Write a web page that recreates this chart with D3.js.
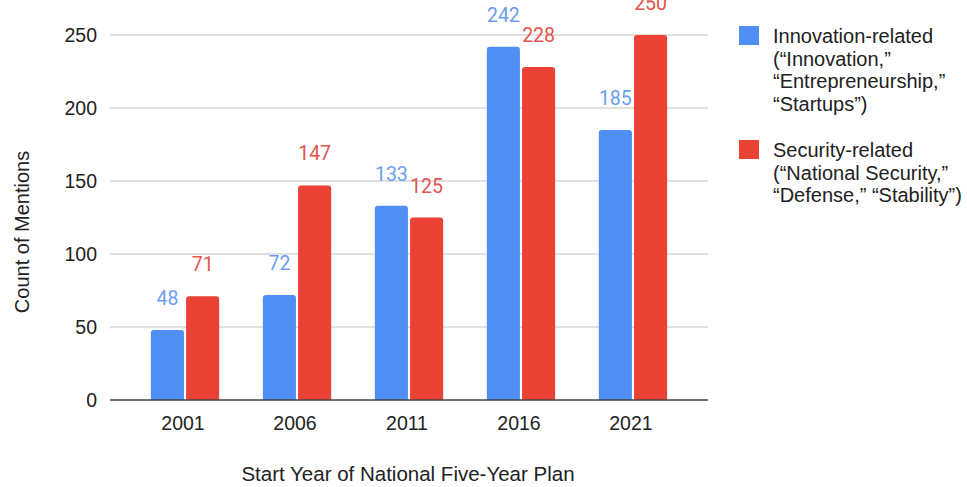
<!DOCTYPE html>
<html>
<head>
<meta charset="utf-8">
<script src="https://cdn.jsdelivr.net/npm/d3@7"></script>
<style>
  body { margin: 0; background: #fff; }
  svg { display: block; font-family: "Liberation Sans", Arial, sans-serif; }
</style>
</head>
<body>
<svg id="chart" width="967" height="487"></svg>
<script>
const years = ["2001", "2006", "2011", "2016", "2021"];
const innovation = [48, 72, 133, 242, 185];
const security = [71, 147, 125, 228, 250];
const yTicks = [0, 50, 100, 150, 200, 250];
const seriesNames = ["innovation", "security"];
const legendLines = [
  ["Innovation-related", "(\u201CInnovation,\u201D", "\u201CEntrepreneurship,\u201D", "\u201CStartups\u201D)"],
  ["Security-related", "(\u201CNational Security,\u201D", "\u201CDefense,\u201D \u201CStability\u201D)"]
];

const colors = { innovation: "#4f8ef3", security: "#ea4335" };
const labelColors = { innovation: "#6a9ef0", security: "#e3544c" };

const svg = d3.select("#chart");
const plotLeft = 110, plotRight = 708, plotTop = 35, plotBottom = 400;

const x = d3.scaleBand().domain(years).range([plotLeft, plotRight])
  .paddingInner(0.39).paddingOuter(0.365);
const xs = d3.scaleBand().domain(seriesNames).range([0, x.bandwidth()]).paddingInner(0.06);
const y = d3.scaleLinear().domain([0, 250]).range([plotBottom, plotTop]);

// gridlines
svg.append("g").selectAll("line").data(yTicks.filter(d => d > 0)).enter()
  .append("line")
  .attr("x1", plotLeft).attr("x2", plotRight)
  .attr("y1", d => y(d)).attr("y2", d => y(d))
  .attr("stroke", "#d6d6d6").attr("stroke-width", 1.5);

// y tick labels
svg.append("g").selectAll("text").data(yTicks).enter()
  .append("text")
  .attr("x", 97).attr("y", d => y(d) + 7)
  .attr("text-anchor", "end")
  .attr("fill", "#222")
  .style("font-size", "19.5px")
  .text(d => d);

// bars, top corners rounded
function barPath(x0, w, y0, y1, r) {
  r = Math.min(r, (y1 - y0));
  return `M${x0},${y1}V${y0 + r}Q${x0},${y0} ${x0 + r},${y0}H${x0 + w - r}Q${x0 + w},${y0} ${x0 + w},${y0 + r}V${y1}Z`;
}

const rows = years.map((yr, i) => ({ year: yr, innovation: innovation[i], security: security[i] }));

const groups = svg.append("g").selectAll("g").data(rows).enter()
  .append("g")
  .attr("transform", d => `translate(${x(d.year)},0)`);

groups.selectAll("path").data(d => seriesNames.map(k => ({ key: k, value: d[k] }))).enter()
  .append("path")
  .attr("d", d => barPath(xs(d.key), xs.bandwidth(), y(d.value), y(0), 3))
  .attr("fill", d => colors[d.key]);

groups.selectAll("text").data(d => seriesNames.map(k => ({ key: k, value: d[k] }))).enter()
  .append("text")
  .attr("x", d => xs(d.key) + xs.bandwidth() / 2)
  .attr("y", d => y(d.value) - 25)
  .attr("text-anchor", "middle")
  .attr("fill", d => labelColors[d.key])
  .style("font-family", "Roboto, sans-serif")
  .style("font-size", "19.5px")
  .text(d => d.value);

// baseline
svg.append("line")
  .attr("x1", plotLeft).attr("x2", plotRight)
  .attr("y1", y(0)).attr("y2", y(0))
  .attr("stroke", "#444").attr("stroke-width", 1.5);

// x tick labels
svg.append("g").selectAll("text").data(years).enter()
  .append("text")
  .attr("x", d => x(d) + x.bandwidth() / 2 - 2)
  .attr("y", 430)
  .attr("text-anchor", "middle")
  .attr("fill", "#222")
  .style("font-size", "19.5px")
  .text(d => d);

// axis titles
svg.append("text")
  .attr("x", 408).attr("y", 481)
  .attr("text-anchor", "middle")
  .attr("fill", "#222")
  .style("font-size", "20.5px")
  .text("Start Year of National Five-Year Plan");

svg.append("text")
  .attr("transform", "translate(29,232) rotate(-90)")
  .attr("text-anchor", "middle")
  .attr("fill", "#222")
  .style("font-size", "20px")
  .text("Count of Mentions");

// legend
const legendTops = [26, 140];
const legend = svg.append("g");
seriesNames.forEach((k, i) => {
  legend.append("rect")
    .attr("x", 739).attr("y", legendTops[i])
    .attr("width", 20).attr("height", 19)
    .attr("fill", colors[k]);
  legend.append("text")
    .attr("x", 773).attr("y", legendTops[i] + 17)
    .attr("fill", "#222")
    .style("font-size", "20px")
    .selectAll("tspan").data(legendLines[i]).enter()
    .append("tspan")
    .attr("x", 773)
    .attr("dy", (d, j) => j === 0 ? 0 : 22.5)
    .text(d => d);
});
</script>
</body>
</html>
